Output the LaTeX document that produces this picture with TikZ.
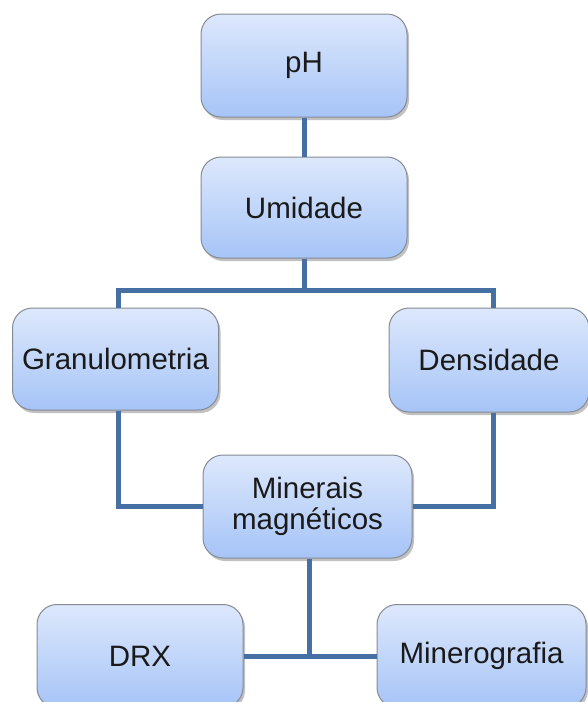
\documentclass[tikz,border=0pt]{standalone}
\usepackage{fontspec}
\setmainfont{Liberation Sans}
\usetikzlibrary{shadows}
\definecolor{topc}{HTML}{DDE8FC}
\definecolor{botc}{HTML}{A6C4F7}
\definecolor{bordc}{HTML}{858B95}
\definecolor{linec}{HTML}{4670A4}
\definecolor{txtc}{HTML}{1A1A1A}
\begin{document}
\begin{tikzpicture}[x=1pt,y=-1pt,
  box/.style={draw=bordc, line width=1pt, rounded corners=20pt,
    top color=topc, bottom color=botc, minimum width=206pt, minimum height=103pt,
    inner sep=0pt, align=center, text=txtc,
    font=\fontsize{29.5}{31}\selectfont,
    drop shadow={shadow xshift=2pt, shadow yshift=-3pt, opacity=0.35, fill=black!70}},
  conn/.style={draw=linec, line width=5pt}]
\useasboundingbox (0,0) rectangle (588,702);
\node[box] (pH) at (304,65.5) {pH};
\node[box, minimum height=101pt] (Umid) at (304,207.5) {Umidade};
\node[box, minimum height=102pt] (Gran) at (115.5,359) {Granulometria};
\node[box, minimum width=200pt, minimum height=104pt] (Dens) at (489,360) {Densidade};
\node[box, minimum width=209pt] (Min) at (307.5,506.5) {Minerais\\magnéticos};
\node[box] (DRX) at (140,656) {DRX};
\node[box, minimum width=209pt] (Mino) at (481.5,656) {Minerografia};
\draw[conn] (pH.south) -- (Umid.north);
\draw[conn] (Umid.south) -- ++(0,32) coordinate (j1);
\draw[conn] ([xshift=2.5pt]Gran.north) |- (j1) -| ([xshift=4pt]Dens.north);
\draw[conn] ([xshift=2.5pt]Gran.south) |- (Min.west);
\draw[conn] ([xshift=4pt]Dens.south) |- (Min.east);
\draw[conn] ([xshift=1.5pt]Min.south) -- ++(0,99.5) coordinate (j2);
\draw[conn] (DRX.east) -- (Mino.west);
\end{tikzpicture}
\end{document}
